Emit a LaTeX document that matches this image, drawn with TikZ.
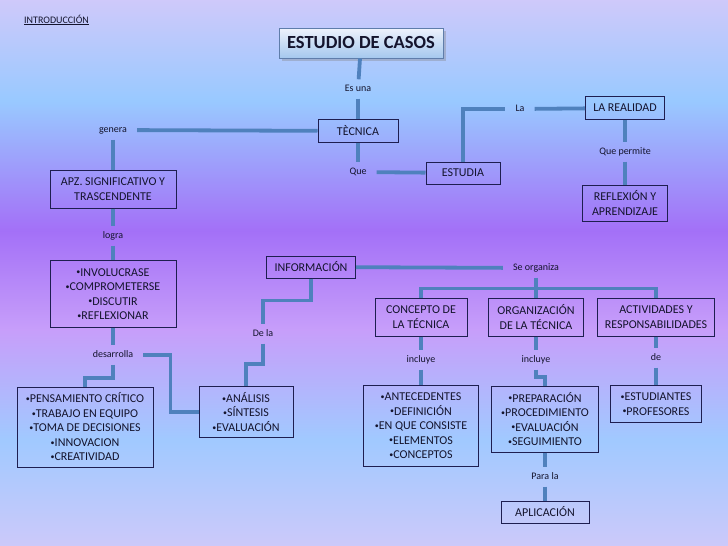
\documentclass[tikz,border=0pt]{standalone}
\usepackage{fontspec}
\setmainfont{Carlito}
\usetikzlibrary{positioning, shadows}

\definecolor{linea}{RGB}{79,129,189}
\definecolor{borde}{RGB}{30,30,80}
\definecolor{texto}{RGB}{20,20,45}
\definecolor{tborde}{RGB}{95,125,170}
\definecolor{tarriba}{RGB}{238,242,252}
\definecolor{tabajo}{RGB}{165,200,238}

\newcommand{\punto}{\raisebox{0.25ex}{\fontsize{8}{8}\selectfont•}}

\pgfdeclareverticalshading{fondo}{100bp}{%
  rgb(0bp)=(0.80,0.79,0.98); rgb(25bp)=(0.80,0.79,0.98);
  rgb(34.7bp)=(0.63,0.79,1.00); rgb(44.8bp)=(0.78,0.62,0.98);
  rgb(53.9bp)=(0.64,0.44,0.97); rgb(65.8bp)=(0.60,0.79,1.00);
  rgb(75bp)=(0.81,0.79,0.98); rgb(100bp)=(0.81,0.79,0.98)}

\begin{document}
\begin{tikzpicture}[x=1pt, y=-1pt,
  caja/.style={draw=borde, line width=1pt, rectangle, align=center, text=texto,
               font=\fontsize{12}{14.5}\selectfont, inner sep=0pt},
  etiq/.style={text=texto, font=\fontsize{10}{12}\selectfont, inner xsep=10pt,
               inner ysep=5pt, text height=7pt, text depth=2pt},
  con/.style={draw=linea, line width=3.8pt}
]
  \useasboundingbox (0,0) rectangle (728,546);
  \fill[shading=fondo] (0,0) rectangle (728,546);

  \node[anchor=west, text=texto, font=\fontsize{10}{12}\selectfont, inner sep=0pt] (intro) at (24,20) {\underline{INTRODUCCIÓN}};

  % upper part
  \node[caja, draw=tborde, top color=tarriba, bottom color=tabajo,
        drop shadow={opacity=0.35, shadow xshift=3pt, shadow yshift=-3pt},
        minimum width=164pt, minimum height=30pt,
        font=\fontsize{18.5}{22}\selectfont\bfseries] (titulo) at (361,43) {ESTUDIO DE CASOS};
  \node[etiq] (esuna) at (358,89) {Es una};
  \node[caja, minimum width=80pt, minimum height=23pt] (tecnica) at (358,131) {TÈCNICA};
  \node[etiq] (genera) at (113,130) {genera};
  \node[etiq] (que) at (358,172) {Que};
  \node[caja, minimum width=74pt, minimum height=22pt] (estudia) at (463,173) {ESTUDIA};
  \node[etiq] (la) at (520,109) {La};
  \node[caja, minimum width=79pt, minimum height=23pt] (realidad) at (625,108) {LA REALIDAD};
  \node[etiq] (permite) at (625,152) {Que permite};
  \node[caja, minimum width=85pt, minimum height=36pt] (reflexion) at (625,203) {REFLEXIÓN Y\\APRENDIZAJE};

  % left column
  \node[caja, minimum width=126pt, minimum height=38pt] (apz) at (113,189) {APZ. SIGNIFICATIVO Y\\TRASCENDENTE};
  \node[etiq] (logra) at (113,236) {logra};
  \node[caja, minimum width=126pt, minimum height=67pt] (involucra) at (113,294) {\punto INVOLUCRASE\\\punto COMPROMETERSE\\\punto DISCUTIR\\\punto REFLEXIONAR};
  \node[etiq] (desarrolla) at (113,355) {desarrolla};
  \node[caja, minimum width=136pt, minimum height=80pt] (pensamiento) at (85,427) {\punto PENSAMIENTO CRÍTICO\\\punto TRABAJO EN EQUIPO\\\punto TOMA DE DECISIONES\\\punto INNOVACION\\\punto CREATIVIDAD};
  \node[caja, minimum width=94pt, minimum height=51pt] (analisis) at (246,412) {\punto ANÁLISIS\\\punto SÍNTESIS\\\punto EVALUACIÓN};

  % middle and right
  \node[caja, minimum width=89pt, minimum height=22pt] (informacion) at (311,267) {INFORMACIÓN};
  \node[etiq] (dela) at (263,334) {De la};
  \node[etiq] (organiza) at (536,268) {Se organiza};
  \node[caja, minimum width=92pt, minimum height=38pt] (concepto) at (421,317) {CONCEPTO DE\\LA TÉCNICA};
  \node[caja, minimum width=95pt, minimum height=38pt] (organizacion) at (536,317) {ORGANIZACIÓN\\DE LA TÉCNICA};
  \node[caja, minimum width=117pt, minimum height=38pt] (actividades) at (656,317) {ACTIVIDADES Y\\RESPONSABILIDADES};
  \node[etiq] (incluyeA) at (421,360) {incluye};
  \node[etiq] (incluyeB) at (536,360) {incluye};
  \node[etiq] (de) at (656,358) {de};
  \node[caja, minimum width=115pt, minimum height=81pt] (antecedentes) at (421,426) {\punto ANTECEDENTES\\\punto DEFINICIÓN\\\punto EN QUE CONSISTE\\\punto ELEMENTOS\\\punto CONCEPTOS};
  \node[caja, minimum width=107pt, minimum height=66pt] (preparacion) at (545,419) {\punto PREPARACIÓN\\\punto PROCEDIMIENTO\\\punto EVALUACIÓN\\\punto SEGUIMIENTO};
  \node[caja, minimum width=91pt, minimum height=37pt] (estudiantes) at (656,404) {\punto ESTUDIANTES\\\punto PROFESORES};
  \node[etiq] (parala) at (545,477) {Para la};
  \node[caja, minimum width=88pt, minimum height=22pt] (aplicacion) at (545,512) {APLICACIÓN};

  \draw[con] (titulo) -- (esuna);
  \draw[con] (esuna) -- (tecnica);
  \draw[con] (tecnica) -- (genera);
  \draw[con] (genera) -- (apz);
  \draw[con] (tecnica) -- (que);
  \draw[con] (que) -- (estudia);
  \draw[con] (estudia.north) |- (la.west);
  \draw[con] (la) -- (realidad);
  \draw[con] (realidad) -- (permite);
  \draw[con] (permite) -- (reflexion);
  \draw[con] (apz) -- (logra);
  \draw[con] (logra) -- (involucra);
  \draw[con] (involucra) -- (desarrolla);
  \draw[con] (desarrolla.south) -- ++(0,13) -| (pensamiento.north);
  \draw[con] (desarrolla.east) -| ([xshift=-28pt]analisis.west) -- (analisis.west);
  \draw[con] (informacion.south) -- ++(0,22) -| (dela.north);
  \draw[con] (dela.south) -- ++(0,20) -| (analisis.north);
  \draw[con] (informacion) -- (organiza);
  \draw[con] (organiza) -- (organizacion);
  \draw[con] (concepto.north) -- ++(0,-9) -| (actividades.north);
  \draw[con] (concepto) -- (incluyeA);
  \draw[con] (incluyeA) -- (antecedentes);
  \draw[con] (organizacion) -- (incluyeB);
  \draw[con] (incluyeB.south) -- ++(0,7) -| (preparacion.north);
  \draw[con] (actividades) -- (de);
  \draw[con] (de) -- (estudiantes);
  \draw[con] (preparacion) -- (parala);
  \draw[con] (parala) -- (aplicacion);
\end{tikzpicture}
\end{document}
